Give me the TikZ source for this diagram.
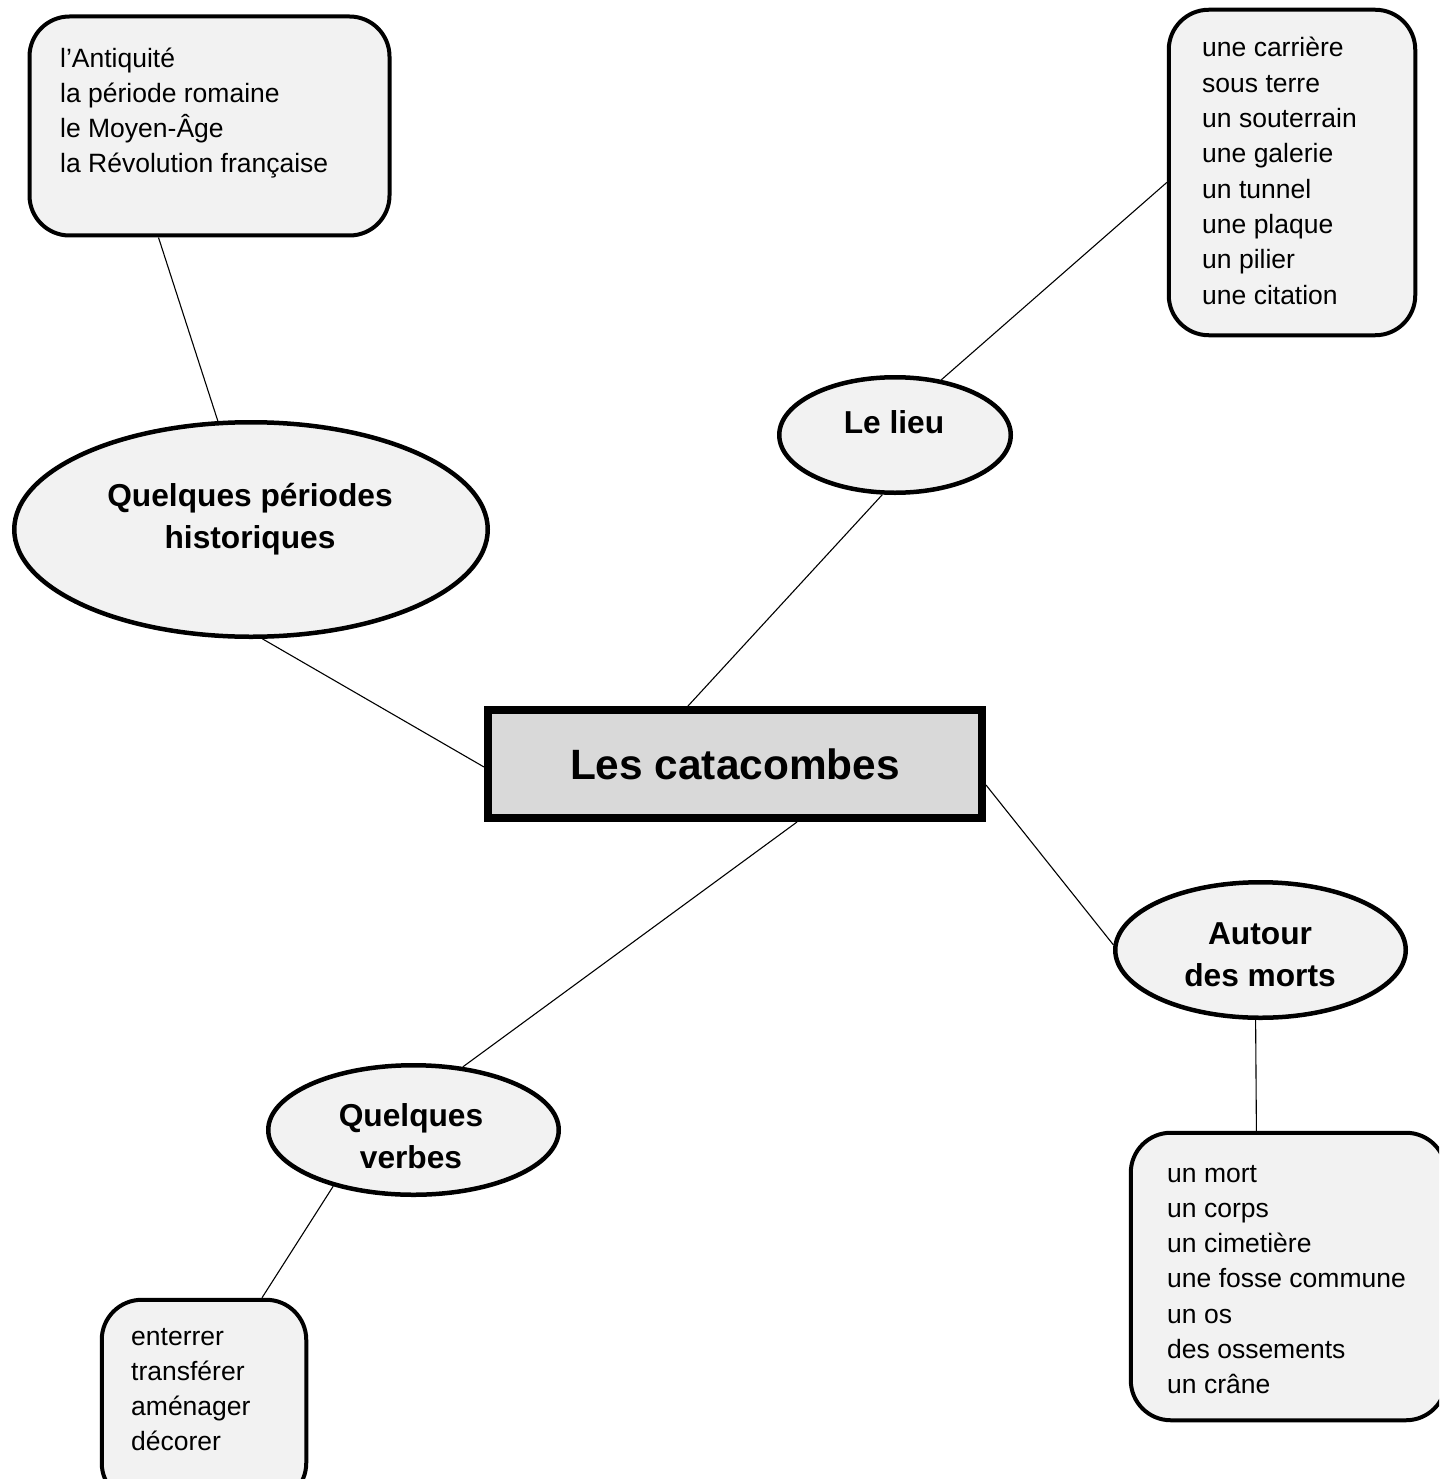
\documentclass[tikz,border=0pt]{standalone}
\usepackage{fontspec}
\setmainfont{Liberation Sans}
\usetikzlibrary{shapes.geometric}
\begin{document}
\begin{tikzpicture}[x=1pt,y=-1pt,
  conn/.style={line width=1.1pt},
  listbox/.style={draw, line width=4pt, fill=black!5, rounded corners=40pt, inner sep=0pt},
  bubble/.style={draw, ellipse, line width=4.5pt, fill=black!5, inner sep=0pt},
  bubbletext/.style={align=center, inner sep=0pt, font=\fontsize{31.7}{42}\selectfont\bfseries},
  item/.style={anchor=base west, inner sep=0pt, font=\fontsize{26.5}{35}\selectfont},
  mainbox/.style={draw, line width=8pt, fill=black!15, inner sep=0pt, minimum width=494pt, minimum height=108pt}]
\useasboundingbox (0,0) rectangle (1439,1479);
\clip (0,0) rectangle (1439,1479);

% boxes
\node[listbox, minimum width=360pt, minimum height=219pt] (tl) at (209.5,126) {};
\node[listbox, minimum width=246.5pt, minimum height=325.5pt] (tr) at (1292,172.5) {};
\node[listbox, minimum width=315.25pt, minimum height=287.5pt] (br) at (1288.4,1276.5) {};
\node[listbox, minimum width=204.5pt, minimum height=203.25pt] (bl) at (204,1401.4) {};

% list texts
\foreach \t [count=\i] in {l’Antiquité, la période romaine, le Moyen-Âge, la Révolution française}
  \node[item] (tl-\i) at (60, {68+35*(\i-1)}) {\t};
\foreach \t [count=\i] in {une carrière, sous terre, un souterrain, une galerie, un tunnel, une plaque, un pilier, une citation}
  \node[item] (tr-\i) at (1202, {57+35.3*(\i-1)}) {\t};
\foreach \t [count=\i] in {un mort, un corps, un cimetière, une fosse commune, un os, des ossements, un crâne}
  \node[item] (br-\i) at (1167, {1182+35.3*(\i-1)}) {\t};
\foreach \t [count=\i] in {enterrer, transférer, aménager, décorer}
  \node[item] (bl-\i) at (131, {1345+35*(\i-1)}) {\t};

% bubbles
\node[bubble, minimum width=473.5pt, minimum height=214.5pt] (qph) at (251,529.5) {};
\node[bubble, minimum width=231.5pt, minimum height=115.5pt] (lieu) at (895,435) {};
\node[bubble, minimum width=290.5pt, minimum height=135.5pt] (morts) at (1260.5,950) {};
\node[bubble, minimum width=290.5pt, minimum height=129.5pt] (verbes) at (413.5,1130) {};

\node[bubbletext] (qph-t) at (250,519) {Quelques périodes\\historiques};
\node[bubbletext] (lieu-t) at (894,422) {Le lieu};
\node[bubbletext] (morts-t) at (1260,955) {Autour\\des morts};
\node[bubbletext] (verbes-t) at (411,1136) {Quelques\\verbes};

% central box
\node[mainbox] (cb) at (735,764) {\fontsize{42.4}{50}\selectfont\bfseries Les catacombes};

% connectors
\draw[conn] ([xshift=-51pt]tl.south) -- (qph.107);
\draw[conn] (qph.276) -- ([yshift=-3pt]cb.west);
\draw[conn] ([xshift=-47pt]cb.north) -- (lieu.258);
\draw[conn] (lieu.50) -- ([yshift=-10pt]tr.west);
\draw[conn] ([yshift=-21pt]cb.east) -- (morts.178);
\draw[conn] (morts.266) -- ([xshift=-32pt]br.north);
\draw[conn] ([xshift=62pt]cb.south) -- (verbes.52);
\draw[conn] (verbes.215) -- ([xshift=58pt]bl.north);
\end{tikzpicture}
\end{document}
